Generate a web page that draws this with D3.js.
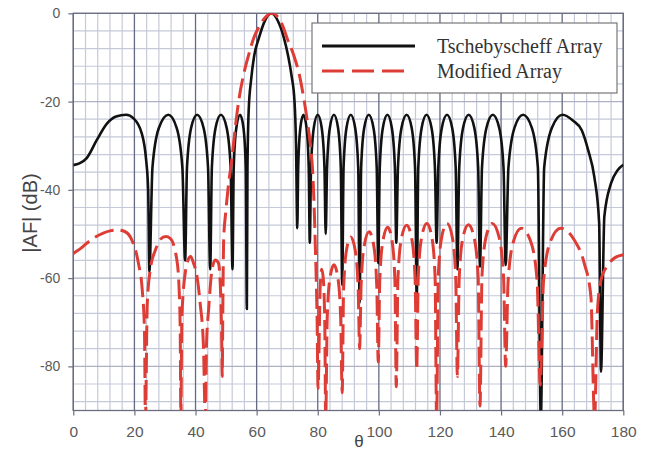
<!DOCTYPE html>
<html><head><meta charset="utf-8">
<script src="https://cdn.jsdelivr.net/npm/d3@7"></script>
<style>body{margin:0;background:#fff}svg{display:block}</style>
</head><body>
<svg id="chart" width="660" height="450"></svg>
<script>
// ---- data ----
const xTickValues = [0, 20, 40, 60, 80, 100, 120, 140, 160, 180];
const yTickValues = [0, -20, -40, -60, -80];
const seriesNames = ["Tschebyscheff Array", "Modified Array"];
const xLabel = "θ";
const yLabel = "|AF| (dB)";

// [theta (deg), |AF| (dB)]
const tschebyscheff = [
  [0,-34.4],[2,-34],[4.4,-32.8],[7.7,-28.7],[11,-25],[14,-23.4],[17.3,-23],[19.7,-23.8],[22.4,-27.2],[23.8,-33],[24.5,-40],[24.9,-58.5],
  [25.9,-35],[28.0,-26],[31.1,-23],[33.85,-26],[35.7,-35],[36.6,-56],
  [37.2,-35],[38.55,-26],[40.5,-23],[42.65,-26],[44.1,-35],[44.8,-58],
  [45.35,-35],[46.55,-26],[48.3,-23],[50.2,-26],[51.5,-35],[52.1,-58],
  [52.5,-35],[53.35,-26],[54.6,-23],[55.7,-26],[56.45,-35],[56.8,-67],
  [57.0,-35],[57.4,-22],[58.2,-15],[59.2,-9.6],[60.7,-5.7],[62.5,-2],[64.8,0],[67,-1.8],[68.9,-5.5],[70.3,-9.6],[71.4,-14],[72.4,-20],[72.9,-30],[73.3,-48.7],
  [73.6,-35],[74.3,-26],[75.3,-23],[76.35,-26],[77.05,-35],[77.4,-52],
  [77.8,-35],[78.7,-26],[80.0,-23],[81.3,-26],[82.2,-35],[82.6,-50],
  [83.05,-35],[83.95,-26],[85.3,-23],[86.65,-26],[87.55,-35],[88.0,-61.5],
  [88.45,-35],[89.4,-26],[90.8,-23],[92.25,-26],[93.25,-35],[93.7,-65.6],
  [94.2,-35],[95.2,-26],[96.7,-23],[98.25,-26],[99.3,-35],[99.8,-56.6],
  [100.3,-35],[101.3,-26],[102.8,-23],[104.25,-26],[105.25,-35],[105.7,-52],
  [106.25,-35],[107.4,-26],[109.1,-23],[110.75,-26],[111.85,-35],[112.4,-64.3],
  [112.9,-35],[114.0,-26],[115.6,-23],[117.25,-26],[118.35,-35],[118.9,-52],
  [119.45,-35],[120.6,-26],[122.3,-23],[124.0,-26],[125.15,-35],[125.7,-58],
  [126.3,-35],[127.55,-26],[129.4,-23],[131.25,-26],[132.5,-35],[133.1,-57.4],
  [133.75,-35],[135.2,-26],[137.3,-23],[139.4,-26],[140.8,-35],[141.5,-57],
  [142.4,-35],[144.35,-26],[147.2,-23],[150.1,-26],[152.05,-35],[153.0,-92],
  [154.1,-35],[156.6,-26],[160.1,-23],[163.5,-24.3],[166.4,-26.5],[168.5,-31],[170.5,-37],[172.1,-47.5],[172.7,-81.2],
  [173.8,-46],[176,-38.5],[178.2,-35.5],[180,-34.3]
];

const modified = [
  [0,-54.4],[2,-53.5],[4.4,-52.1],[7,-50.8],[9.8,-49.8],[12,-49.3],[14.2,-49.1],[17,-49.5],[19.1,-51.3],[21.3,-56.6],[22.6,-63],[23.3,-72],[23.6,-92],
  [24.2,-66],[25.2,-58],[26.9,-53.6],[28.5,-51.2],[30.3,-50.6],[31.7,-51],[33.9,-55.9],[34.6,-62],[35.0,-72],[35.2,-92],
  [35.5,-70],[36,-63],[36.6,-59],[37.5,-56],[38.4,-55.1],[39.3,-56.5],[40.5,-59.7],[41.5,-65.6],[42.6,-75.5],[43.2,-92],
  [43.6,-75],[44.3,-67],[45.4,-58.1],[46.5,-55.9],[47.5,-56.6],[48.2,-63],[48.6,-75],[48.75,-82.3],
  [48.9,-70],[49.2,-51.4],[49.9,-45],[50.6,-40],[51.9,-33],[53,-26],[54.1,-20],[55.7,-14],[57.4,-9.4],[59,-5.7],[61,-2.8],[63,-0.8],[65,0],[67,-0.9],[68.5,-2.8],[70,-5.7],[72.1,-9.4],[74,-14],[75.6,-20],[76.7,-25],[77.6,-29.8],[78.5,-38],[79.2,-52.5],[79.8,-70],[80.1,-85],
  [80.8,-62],[81.3,-58],[81.8,-60],[82.3,-70],[82.6,-92],
  [83.1,-69],[84,-60],[85.3,-57],[86.6,-60],[87.5,-69],[88.0,-86],
  [88.45,-62.7],[89.4,-53.7],[90.8,-50.7],[92.25,-53.7],[93.25,-62.7],[93.7,-76],
  [94.2,-61.5],[95.25,-52.5],[96.8,-49.5],[98.3,-52.5],[99.3,-61.5],[99.8,-79],
  [100.3,-60.5],[101.35,-51.5],[102.9,-48.5],[104.3,-51.5],[105.25,-60.5],[105.7,-84.6],
  [106.25,-60],[107.4,-51],[109.1,-48],[110.75,-51],[111.85,-60],[112.4,-80.8],
  [112.9,-59.6],[114.05,-50.6],[115.7,-47.6],[117.3,-50.6],[118.4,-59.6],[118.9,-92],
  [119.45,-59.6],[120.6,-50.6],[122.3,-47.6],[124,-50.6],[125.15,-59.6],[125.7,-82.3],
  [126.3,-59.9],[127.5,-50.9],[129.3,-47.9],[131.2,-50.9],[132.5,-59.9],[133.1,-89],
  [133.75,-59.6],[135.1,-50.6],[137.1,-47.6],[139.3,-50.6],[140.8,-59.6],[141.5,-80],
  [142.3,-60.7],[144.05,-51.7],[146.6,-48.7],[149.7,-51.7],[151.8,-60.7],[152.8,-84.2],
  [153.9,-60.7],[156.15,-51.7],[159.5,-48.7],[163.9,-51.3],[167.2,-56.6],[169.4,-64.2],[170.6,-92],
  [171.5,-68],[172.7,-60.4],[175,-57],[177,-55.5],[180,-54.7]
];

// ---- layout ----
const W = 660, H = 450;
const m = {left: 73.3, right: 36.7, top: 13.3, bottom: 39.5};
const pw = W - m.left - m.right, ph = H - m.top - m.bottom;

const svg = d3.select("#chart");
svg.append("rect").attr("width", W).attr("height", H).attr("fill", "#fff");

const x = d3.scaleLinear().domain([0, 180]).range([m.left, m.left + pw]);
const y = d3.scaleLinear().domain([-90, 0]).range([m.top + ph, m.top]);

const g = svg.append("g");

// minor grid
const xMinor = d3.range(0, 181, 4);
const yMinor = d3.range(0, -90, -4);
g.append("g").selectAll("line").data(xMinor.filter(v => v % 20 !== 0)).join("line")
  .attr("x1", d => x(d)).attr("x2", d => x(d)).attr("y1", y(0)).attr("y2", y(-90))
  .attr("stroke", "#c6c9d8").attr("stroke-width", 1.2);
g.append("g").selectAll("line").data(yMinor).join("line")
  .attr("x1", x(0)).attr("x2", x(180)).attr("y1", d => y(d)).attr("y2", d => y(d))
  .attr("stroke", d => d % 20 === 0 ? "#aeb1c4" : "#c6c9d8").attr("stroke-width", 1.2);
// major vertical grid
g.append("g").selectAll("line").data(xTickValues).join("line")
  .attr("x1", d => x(d)).attr("x2", d => x(d)).attr("y1", y(0)).attr("y2", y(-90))
  .attr("stroke", "#656a82").attr("stroke-width", 1.3);

// frame
g.append("rect").attr("x", x(0)).attr("y", y(0)).attr("width", pw).attr("height", ph)
  .attr("fill", "none").attr("stroke", "#6a6e80").attr("stroke-width", 1.3);

// axes
const fmt = d => String(d);
const xAxis = d3.axisBottom(x).tickValues(xTickValues).tickSize(5).tickPadding(10).tickFormat(fmt);
const yAxis = d3.axisLeft(y).tickValues(yTickValues).tickSize(5).tickPadding(8).tickFormat(fmt);
const gx = svg.append("g").attr("transform", `translate(0,${y(-90)})`).call(xAxis);
const gy = svg.append("g").attr("transform", `translate(${x(0)},0)`).call(yAxis);
[gx, gy].forEach(a => {
  a.select(".domain").remove();
  a.selectAll(".tick line").attr("stroke", "#6a6e80").attr("stroke-width", 1.2);
  a.selectAll("text").attr("fill", "#5a5a5a").attr("font-family", "'Liberation Sans', Arial, sans-serif");
});
gx.selectAll("text").attr("font-size", 15.5);
gy.selectAll("text").attr("font-size", 14);

// curves
svg.append("clipPath").attr("id", "clip").append("rect")
  .attr("x", x(0)).attr("y", y(0)).attr("width", pw).attr("height", ph);
const line = d3.line().x(d => x(d[0])).y(d => y(d[1])).curve(d3.curveMonotoneX);
const curves = svg.append("g").attr("clip-path", "url(#clip)");
curves.append("path").datum(tschebyscheff).attr("d", line)
  .attr("fill", "none").attr("stroke", "#111").attr("stroke-width", 2.6).attr("stroke-linejoin", "round");
curves.append("path").datum(modified).attr("d", line)
  .attr("fill", "none").attr("stroke", "#de3d36").attr("stroke-width", 3).attr("stroke-dasharray", "20,7");

// axis titles
svg.append("text").attr("x", 359).attr("y", 447).attr("text-anchor", "middle")
  .attr("font-family", "'Liberation Sans', Arial, sans-serif").attr("font-size", 17).attr("fill", "#444")
  .text(xLabel);
svg.append("text").attr("transform", "translate(37,213) rotate(-90)").attr("text-anchor", "middle")
  .attr("font-family", "'Liberation Sans', Arial, sans-serif").attr("font-size", 20).attr("fill", "#444")
  .text(yLabel);

// legend
const lg = svg.append("g");
lg.append("rect").attr("x", 312).attr("y", 23).attr("width", 305).attr("height", 70)
  .attr("fill", "#fff").attr("stroke", "#777").attr("stroke-width", 1.2);
const legendItems = [
  {name: seriesNames[0], color: "#111", dash: null, len: 93, y: 46},
  {name: seriesNames[1], color: "#de3d36", dash: "22,8", len: 83, y: 71}
];
legendItems.forEach(it => {
  lg.append("line").attr("x1", 322).attr("x2", 322 + it.len).attr("y1", it.y).attr("y2", it.y)
    .attr("stroke", it.color).attr("stroke-width", 3).attr("stroke-dasharray", it.dash);
  lg.append("text").attr("x", 437).attr("y", it.y + 7).attr("font-family", "'Liberation Serif', 'Times New Roman', serif")
    .attr("font-size", 20).attr("fill", "#333").text(it.name);
});
</script>
</body></html>
